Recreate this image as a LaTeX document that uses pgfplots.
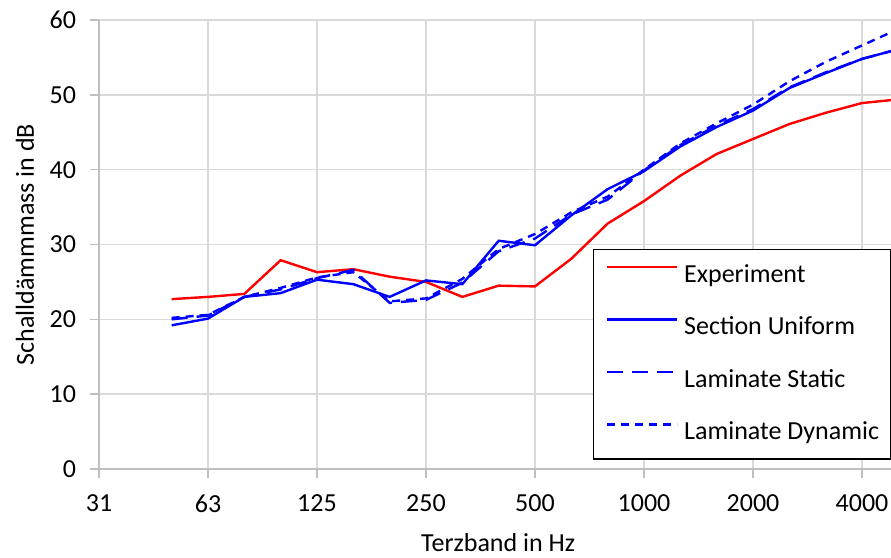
\documentclass[border=0pt]{standalone}
\usepackage{fontspec}
\setmainfont{Carlito}
\usepackage{pgfplots}
\usepackage{pgfplotstable}
\pgfplotsset{compat=1.18}
\definecolor{gridgray}{RGB}{217,217,217}
\definecolor{axisgray}{RGB}{191,191,191}
\definecolor{xred}{RGB}{255,0,0}
\definecolor{xblue}{RGB}{0,0,255}

% x = octave index: log2(f/31.25); 50 Hz -> 0.6667, 63 -> 1, ..., 5000 -> 7.3333
\pgfplotstableread{
x      exp   uni   stat  dyn
0.6667 22.7  19.2  20.0  20.2
1.0000 23.0  20.1  20.5  20.6
1.3333 23.4  23.0  23.0  23.0
1.6667 27.9  23.5  24.0  24.2
2.0000 26.3  25.3  25.5  25.6
2.3333 26.7  24.7  26.6  26.3
2.6667 25.7  23.0  22.2  22.4
3.0000 25.0  25.2  22.6  22.8
3.3333 23.0  24.7  24.9  25.4
3.6667 24.5  30.5  29.1  29.4
4.0000 24.4  29.9  30.8  31.4
4.3333 28.1  33.9  34.0  34.3
4.6667 32.8  37.4  36.0  36.4
5.0000 35.8  39.8  39.9  40.0
5.3333 39.2  43.1  43.3  43.5
5.6667 42.1  45.7  45.9  46.2
6.0000 44.1  47.9  48.1  48.7
6.3333 46.1  50.9  51.0  51.8
6.6667 47.6  52.9  53.0  54.4
7.0000 48.9  54.8  54.8  56.6
7.3333 49.4  56.1  56.1  58.8
}\datatable

\begin{document}
\begin{tikzpicture}
\begin{axis}[
  name=ax,
  scale only axis, width=396pt, height=224.5pt,
  xmin=0, xmax=7.266, ymin=0, ymax=60,
  xtick={0,1,2,3,4,5,6,7},
  xticklabels={31,63,125,250,500,1000,2000,4000},
  ytick={0,10,20,30,40,50,60},
  axis x line*=bottom, axis y line*=left,
  axis line style={axisgray, line width=0.75pt},
  grid=major, major grid style={gridgray, line width=0.75pt},
  tick align=outside, major tick length=4.5pt,
  tick style={axisgray, line width=0.75pt},
  /pgf/number format/assume math mode=true,
  tick label style={font=\fontsize{13}{15}\selectfont, black},
  xticklabel style={yshift=-5pt},
  yticklabel style={xshift=-3.5pt},
  xlabel={Terzband in Hz},
  ylabel={Schalldämmmass in dB},
  label style={font=\fontsize{13}{15}\selectfont, black},
  xlabel style={at={(axis description cs:0.504,-0.1648)}, anchor=center},
  ylabel style={at={(axis description cs:-0.0934,0.5)}, anchor=center},
  legend cell align=left,
  legend style={at={(axis description cs:0.6237,0.49)}, anchor=north west,
    draw=black, line width=0.6pt, fill=white,
    inner xsep=6pt, inner ysep=6.75pt, row sep=13.75pt, column sep=3pt,
    nodes={inner sep=0pt, text height=9.5pt, text depth=3pt,
      font=\fontsize{13}{15}\selectfont}},
  legend image code/.code={\draw[#1, line width=1.3pt] (0pt,4.2pt) -- (35pt,4.2pt);},
  every axis plot/.append style={line width=1.2pt},
]
\addplot[xred, no markers] table[x=x, y=exp] {\datatable};
\addlegendentry{Experiment}
\addplot[xblue, no markers] table[x=x, y=uni] {\datatable};
\addlegendentry{Section Uniform}
\addplot[xblue, no markers, dash pattern=on 8pt off 4.5pt] table[x=x, y=stat] {\datatable};
\addlegendentry{Laminate Static}
\addplot[xblue, no markers, dash pattern=on 4pt off 3pt] table[x=x, y=dyn] {\datatable};
\addlegendentry{Laminate Dynamic}
\end{axis}
\pgfresetboundingbox
\path[use as bounding box] ([xshift=-49.5pt,yshift=-44pt]ax.south west) rectangle ([yshift=10pt]ax.north east);
\end{tikzpicture}
\end{document}
